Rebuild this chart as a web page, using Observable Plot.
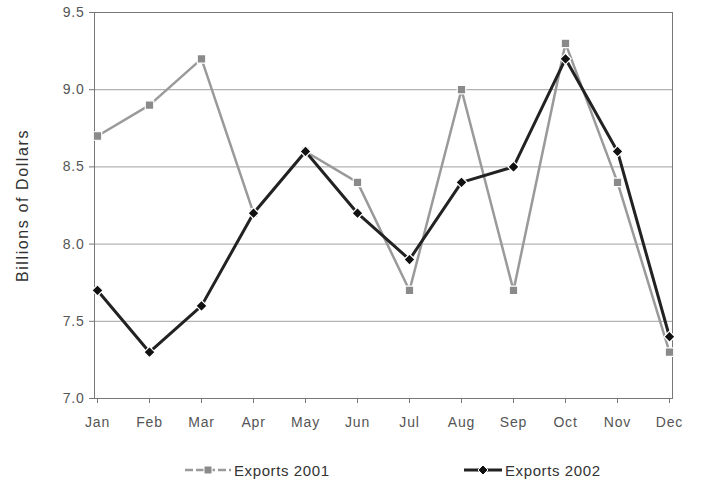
<!DOCTYPE html>
<html>
<head>
<meta charset="utf-8">
<script src="https://cdn.jsdelivr.net/npm/d3@7"></script>
<script src="https://cdn.jsdelivr.net/npm/@observablehq/plot@0.6"></script>
<style>
  body { margin: 0; background: #fff; font-family: "Liberation Sans", Arial, sans-serif; }
  #wrap { position: relative; width: 705px; height: 486px; }
  .leg { position: absolute; top: 460px; display: flex; align-items: center; font-size: 15px; letter-spacing: 0.6px; color: #333; }
  .leg svg { margin-right: 2px; }
</style>
</head>
<body>
<div id="wrap">
  <div id="chart"></div>
  <div class="leg" style="left:184px">
    <svg width="48" height="20"><line x1="1" y1="10" x2="47" y2="10" stroke="#9a9a9a" stroke-width="2.5" stroke-dasharray="8,3"/><rect x="20" y="6" width="8" height="8" fill="#8a8a8a" stroke="#fff" stroke-width="1"/></svg>
    <span>Exports 2001</span>
  </div>
  <div class="leg" style="left:463px">
    <svg width="40" height="20"><line x1="1" y1="10" x2="39" y2="10" stroke="#222" stroke-width="3"/><path d="M20,5L25,10L20,15L15,10Z" fill="#111" stroke="#fff" stroke-width="1"/></svg>
    <span>Exports 2002</span>
  </div>
</div>
<script>
const months = ["Jan","Feb","Mar","Apr","May","Jun","Jul","Aug","Sep","Oct","Nov","Dec"];
const exports2001 = [8.7, 8.9, 9.2, 8.2, 8.6, 8.4, 7.7, 9.0, 7.7, 9.3, 8.4, 7.3];
const exports2002 = [7.7, 7.3, 7.6, 8.2, 8.6, 8.2, 7.9, 8.4, 8.5, 9.2, 8.6, 7.4];
const yTicks = [7.0, 7.5, 8.0, 8.5, 9.0, 9.5];
const yTitle = "Billions of Dollars";

const d01 = months.map((m, i) => ({month: m, value: exports2001[i]}));
const d02 = months.map((m, i) => ({month: m, value: exports2002[i]}));

const chart = Plot.plot({
  width: 705,
  height: 440,
  marginLeft: 94,
  marginRight: 33,
  marginTop: 12,
  marginBottom: 42,
  style: {fontFamily: "Liberation Sans, Arial, sans-serif", fontSize: "14px", color: "#555", background: "#fff", letterSpacing: "0.8px"},
  x: {type: "point", domain: months, padding: 0},
  y: {domain: [7.0, 9.5]},
  marks: [
    Plot.gridY(yTicks, {stroke: "#888", strokeOpacity: 0.8, strokeWidth: 1}),
    Plot.frame({stroke: "#777", strokeWidth: 1}),
    Plot.axisX({tickSize: 5, tickPadding: 14, stroke: "#777", fill: "#555", label: null, fontSize: 14}),
    Plot.axisY(yTicks, {tickSize: 5, tickPadding: 5, tickFormat: d3.format(".1f"), stroke: "#777", fill: "#555", label: null, fontSize: 14}),
    Plot.text([yTitle], {frameAnchor: "left", textAnchor: "middle", rotate: -90, dx: -72, fontSize: 16, fill: "#333"}),
    Plot.line(d01, {x: "month", y: "value", stroke: "#9a9a9a", strokeWidth: 2.5}),
    Plot.dot(d01, {x: "month", y: "value", symbol: "square", r: 4.8, fill: "#8a8a8a", stroke: "#fff", strokeWidth: 1.2}),
    Plot.line(d02, {x: "month", y: "value", stroke: "#222", strokeWidth: 3}),
    Plot.dot(d02, {x: "month", y: "value", symbol: "diamond2", r: 5, fill: "#111", stroke: "#fff", strokeWidth: 1.2})
  ]
});
chart.querySelectorAll("text").forEach(t => { if (t.textContent === yTitle) t.style.letterSpacing = "1.6px"; });
document.getElementById("chart").appendChild(chart);
</script>
</body>
</html>
